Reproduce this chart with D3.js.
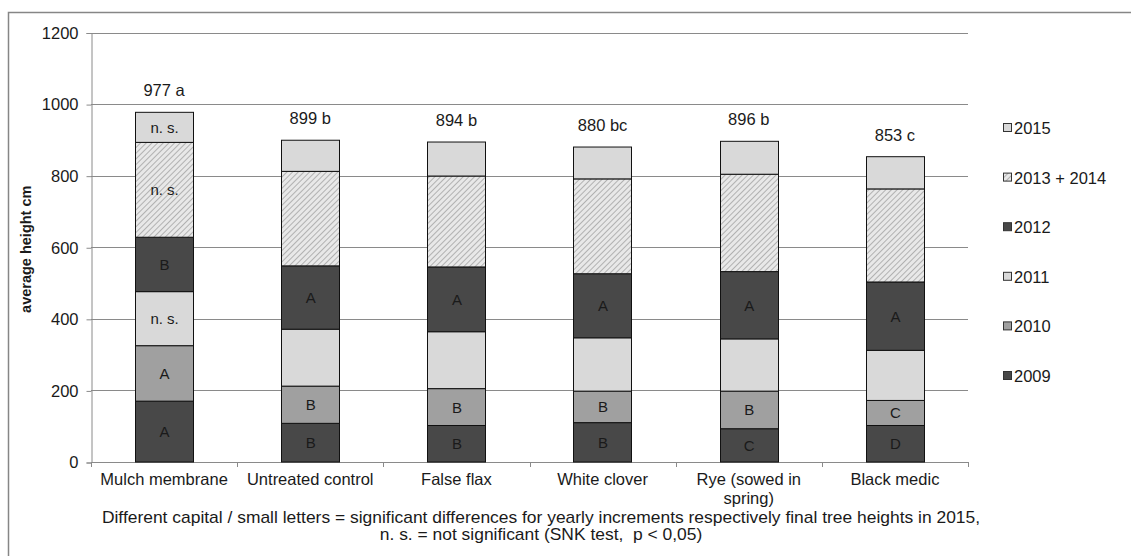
<!DOCTYPE html>
<html>
<head>
<meta charset="utf-8">
<script src="https://cdn.jsdelivr.net/npm/d3@7"></script>
<style>
  body { margin: 0; background: #fff; }
  text { font-family: "Liberation Sans", Arial, sans-serif; fill: #1a1a1a; }
</style>
</head>
<body>
<div class="chart"></div>
<script>

// DATA

var categories = ['Mulch membrane', 'Untreated control', 'False flax', 'White clover', 'Rye (sowed in spring)', 'Black medic'];
var years = ['2009', '2010', '2011', '2012', '2013 + 2014', '2015'];

// yearly increments (cm), one array per year
var inc2009 = [170, 108, 102, 110, 93, 102];
var inc2010 = [155, 104, 103, 88, 105, 70];
var inc2011 = [151, 159, 159, 149, 146, 140];
var inc2012 = [152, 177, 181, 179, 188, 191];
var inc2013_2014 = [265, 264, 254, 265, 272, 260];
var inc2015 = [84, 87, 95, 89, 92, 90];

// letters written in the segments
var letters2009 = ['A', 'B', 'B', 'B', 'C', 'D'];
var letters2010 = ['A', 'B', 'B', 'B', 'B', 'C'];
var letters2011 = ['n. s.', '', '', '', '', ''];
var letters2012 = ['B', 'A', 'A', 'A', 'A', 'A'];
var letters2013_2014 = ['n. s.', '', '', '', '', ''];
var letters2015 = ['n. s.', '', '', '', '', ''];

var totalLabels = ['977 a', '899 b', '894 b', '880 bc', '896 b', '853 c'];

var yTicks = [0, 200, 400, 600, 800, 1000, 1200];

var footnote = [
  'Different capital / small letters = significant differences for yearly increments respectively final tree heights in 2015,',
  'n. s. = not significant (SNK test,  p < 0,05)'
];

// SETUP

var width = 1131, height = 556;
var plot = { left: 91, right: 968, top: 32.5, bottom: 462 };

var seriesValues = [inc2009, inc2010, inc2011, inc2012, inc2013_2014, inc2015];
var seriesLetters = [letters2009, letters2010, letters2011, letters2012, letters2013_2014, letters2015];
var fills = ['#484848', '#a0a0a0', '#d9d9d9', '#484848', 'url(#hatch)', '#d9d9d9'];

var svg = d3.select('.chart')
  .append('svg')
  .attr('width', width)
  .attr('height', height);

var defs = svg.append('defs');
var pattern = defs.append('pattern')
  .attr('id', 'hatch')
  .attr('width', 4)
  .attr('height', 4)
  .attr('patternUnits', 'userSpaceOnUse')
  .attr('patternTransform', 'rotate(45)');
pattern.append('rect').attr('width', 4).attr('height', 4).attr('fill', '#e8e8e8');
pattern.append('line')
  .attr('x1', 0).attr('y1', 0).attr('x2', 0).attr('y2', 4)
  .attr('stroke', '#8c8c8c').attr('stroke-width', 1.2);

// chart frame (only top and left edges show)
svg.append('path')
  .attr('d', 'M8.5,' + height + 'V12.5H' + width)
  .attr('fill', 'none')
  .attr('stroke', '#868686')
  .attr('stroke-width', 1.5);

var x = d3.scaleBand()
  .domain(categories)
  .range([plot.left, plot.right])
  .paddingInner(0.6)
  .paddingOuter(0.3);

var y = d3.scaleLinear()
  .domain([0, 1200])
  .range([plot.bottom, plot.top]);

// GRID + AXES

svg.append('g')
  .selectAll('line')
  .data(yTicks.slice(1))
  .enter()
  .append('line')
  .attr('x1', plot.left)
  .attr('x2', plot.right)
  .attr('y1', function(d){ return Math.round(y(d)) + 0.5; })
  .attr('y2', function(d){ return Math.round(y(d)) + 0.5; })
  .attr('stroke', '#8a8a8a');

var yAxis = svg.append('g')
  .attr('transform', 'translate(' + (plot.left + 0.5) + ',0.5)')
  .call(d3.axisLeft(y).tickValues(yTicks).tickFormat(d3.format('d')).tickSize(5).tickPadding(8));
yAxis.selectAll('path, line').attr('stroke', '#8a8a8a');
yAxis.selectAll('text')
  .attr('font-size', 16.5)
  .attr('font-family', '"Liberation Sans", Arial, sans-serif')
  .attr('fill', '#1a1a1a');

// x axis line with ticks between the categories
var boundaries = d3.range(categories.length + 1).map(function(i){
  return plot.left + i * x.step();
});
svg.append('line')
  .attr('x1', plot.left).attr('x2', plot.right)
  .attr('y1', plot.bottom + 0.5).attr('y2', plot.bottom + 0.5)
  .attr('stroke', '#8a8a8a');
svg.append('g')
  .selectAll('line')
  .data(boundaries)
  .enter()
  .append('line')
  .attr('x1', function(d){ return Math.round(d) + 0.5; })
  .attr('x2', function(d){ return Math.round(d) + 0.5; })
  .attr('y1', plot.bottom)
  .attr('y2', plot.bottom + 5)
  .attr('stroke', '#8a8a8a');

// category labels (Rye wraps to two lines)
var catText = svg.append('g')
  .selectAll('text')
  .data(categories)
  .enter()
  .append('text')
  .attr('text-anchor', 'middle')
  .attr('font-size', 16.5)
  .attr('x', function(d){ return x(d) + x.bandwidth() / 2; })
  .attr('y', 485);
catText.each(function(d){
  var parts = d === 'Rye (sowed in spring)' ? ['Rye (sowed in', 'spring)'] : [d];
  var t = d3.select(this);
  parts.forEach(function(p, i){
    t.append('tspan')
      .attr('x', x(d) + x.bandwidth() / 2)
      .attr('dy', i === 0 ? 0 : 19)
      .text(p);
  });
});

// y axis title
svg.append('text')
  .attr('transform', 'translate(31,' + (y(600) + 2) + ') rotate(-90)')
  .attr('text-anchor', 'middle')
  .attr('font-size', 14.5)
  .attr('font-weight', 'bold')
  .text('average height cm');

// STACKED BARS

var rows = categories.map(function(c, i){
  var row = { category: c };
  years.forEach(function(yr, j){ row[yr] = seriesValues[j][i]; });
  return row;
});

var stacked = d3.stack().keys(years)(rows);

var layers = svg.append('g')
  .selectAll('g')
  .data(stacked)
  .enter()
  .append('g')
  .attr('fill', function(d, i){ return fills[i]; });

layers.selectAll('rect')
  .data(function(d){ return d; })
  .enter()
  .append('rect')
  .attr('x', function(d){ return Math.round(x(d.data.category)) + 0.5; })
  .attr('width', Math.round(x.bandwidth()))
  .attr('y', function(d){ return y(d[1]); })
  .attr('height', function(d){ return y(d[0]) - y(d[1]); })
  .attr('stroke', '#111')
  .attr('stroke-width', 1);

// letters inside segments
layers.each(function(layer, i){
  d3.select(this).selectAll('text')
    .data(layer)
    .enter()
    .append('text')
    .attr('text-anchor', 'middle')
    .attr('font-size', 15)
    .attr('fill', '#222')
    .attr('x', function(d){ return x(d.data.category) + x.bandwidth() / 2 + 0.5; })
    .attr('y', function(d){ return (y(d[0]) + y(d[1])) / 2 + 5.5; })
    .text(function(d, k){ return seriesLetters[i][k]; });
});

// totals above bars
var tops = stacked[stacked.length - 1];
svg.append('g')
  .selectAll('text')
  .data(tops)
  .enter()
  .append('text')
  .attr('text-anchor', 'middle')
  .attr('font-size', 16.5)
  .attr('x', function(d){ return x(d.data.category) + x.bandwidth() / 2; })
  .attr('y', function(d){ return y(d[1]) - 16; })
  .text(function(d, i){ return totalLabels[i]; });

// LEGEND (2015 on top)

var legendOrder = years.slice().reverse();
var legend = svg.append('g')
  .selectAll('g')
  .data(legendOrder)
  .enter()
  .append('g')
  .attr('transform', function(d, i){ return 'translate(1003,' + (128 + i * 49.6) + ')'; });

legend.append('rect')
  .attr('x', 0.5)
  .attr('y', -4.5)
  .attr('width', 8)
  .attr('height', 8)
  .attr('fill', function(d){ return fills[years.indexOf(d)]; })
  .attr('stroke', '#333');

legend.append('text')
  .attr('x', 11)
  .attr('y', 6)
  .attr('font-size', 16.5)
  .text(function(d){ return d; });

// FOOTNOTE (the source type is a bit wider than Arial, so stretch it)

svg.append('g')
  .selectAll('text')
  .data(footnote)
  .enter()
  .append('text')
  .attr('text-anchor', 'middle')
  .attr('font-size', 16)
  .style('white-space', 'pre')
  .attr('transform', function(d, i){ return 'translate(541,' + (523 + i * 17) + ') scale(1.09,1)'; })
  .text(function(d){ return d; });

</script>
</body>
</html>
